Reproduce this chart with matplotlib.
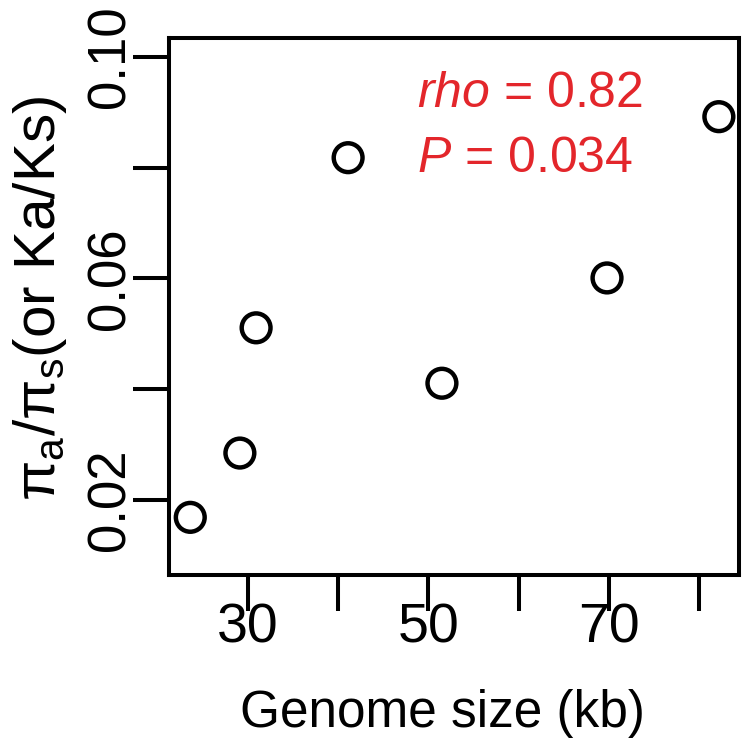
import matplotlib
matplotlib.use("Agg")
import matplotlib.pyplot as plt

# genome size (kb) vs pi_a/pi_s
genome_kb = [23.6, 29.1, 30.9, 41.1, 51.5, 69.8, 82.2]
ratio = [0.0169, 0.0285, 0.0511, 0.0818, 0.0411, 0.0601, 0.0892]
x_ticks = [30, 40, 50, 60, 70, 80]
x_labels = ["30", "", "50", "", "70", ""]
y_ticks = [0.02, 0.04, 0.06, 0.08, 0.10]
y_labels = ["0.02", "", "0.06", "", "0.10"]

plt.rcParams['font.family'] = ['Liberation Sans', 'DejaVu Sans']
plt.rcParams['mathtext.fontset'] = 'custom'
plt.rcParams['mathtext.rm'] = 'Liberation Sans'
plt.rcParams['mathtext.it'] = 'Liberation Sans:italic'

fig = plt.figure(figsize=(7.5, 7.52), dpi=100, facecolor="white")
ax = fig.add_axes((0.2253, 0.2354, 0.76, 0.7141))

ax.scatter(genome_kb, ratio, s=430, facecolors="none", edgecolors="black",
           linewidths=3.2, zorder=3)

ax.set_xlim(21.24, 84.43)
ax.set_ylim(0.0065, 0.1034)
ax.set_xticks(x_ticks)
ax.set_xticklabels(x_labels)
ax.set_yticks(y_ticks)
ax.set_yticklabels(y_labels)

for sp in ax.spines.values():
    sp.set_linewidth(2.9)
ax.tick_params(direction="out", length=26, width=2.9)
ax.tick_params(axis="x", pad=-6, labelsize=40)
ax.tick_params(axis="y", pad=6, labelsize=38)
for lab in ax.get_yticklabels():
    lab.set_rotation(90)
    lab.set_rotation_mode("anchor")
    lab.set_ha("center")
    lab.set_va("baseline")

# axis titles placed like R's mtext lines
fig.text(442 / 750, 1 - 713 / 752, "Genome size (kb)", fontsize=37,
         ha="center", va="center")
fig.text(40 / 750, 1 - 298 / 752, "π$_\\mathrm{a}$/π$_\\mathrm{s}$(or Ka/Ks)",
         fontsize=42, rotation=90, ha="center", va="center")

red = "#e3262b"
ax.text(0.435, 0.8715, r"$\it{rho}$ = 0.82", transform=ax.transAxes, color=red,
        fontsize=36, ha="left", va="baseline")
ax.text(0.435, 0.7505, r"$\it{P}$ = 0.034", transform=ax.transAxes, color=red,
        fontsize=36, ha="left", va="baseline")

fig.savefig("out.png", dpi=100, facecolor="white")
